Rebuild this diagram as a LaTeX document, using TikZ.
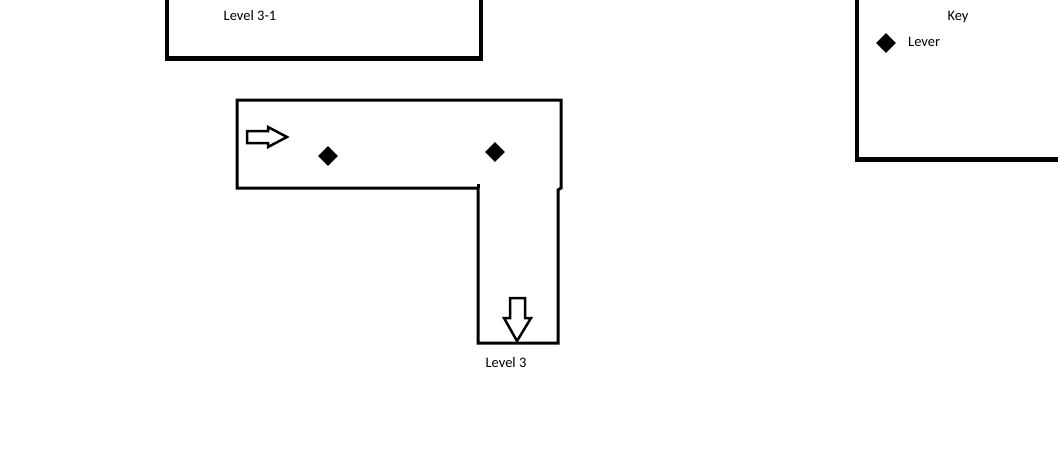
\documentclass[tikz,border=0pt]{standalone}
\usepackage{fontspec}
\setmainfont{Carlito}
\usetikzlibrary{shapes.geometric}
\begin{document}
\begin{tikzpicture}[x=1pt,y=-1pt,
  thickwall/.style={line width=4.5pt},
  wall/.style={line width=3pt},
  lever/.style={diamond,fill=black,inner sep=0pt,minimum width=20pt,minimum height=20pt},
  arrowshape/.style={line width=2.5pt,fill=white,line join=miter},
  lbl/.style={font=\fontsize{14.5}{17}\selectfont,text=black,inner sep=0pt}]
\useasboundingbox (0,0) rectangle (1058,475);
\fill[white] (0,0) rectangle (1058,475);
% Level 3-1 box
\draw[thickwall] (167,-5) -- (167,58.5) -- (481,58.5) -- (481,-5);
\node[lbl] (l31) at (250,16) {Level 3-1};
% Key box
\draw[thickwall] (857,-5) -- (857,159.5) -- (1063,159.5);
\node[lbl] (key) at (958,17) {Key};
\node[lever] (keylever) at (886,43) {};
\node[lbl,anchor=west] (levertxt) at (908,42) {Lever};
% L-shaped room
\draw[wall] (478,188) -- (237,188) -- (237,100) -- (561,100) -- (561,188) -- (558,190) -- (558,343) -- (478,343) -- (478,188);
\draw[wall] (478,188) -- (478,184);
% arrows
\draw[arrowshape] (247,131) -- (268,131) -- (268,127) -- (287,137) -- (268,147) -- (268,143) -- (247,143) -- cycle;
\draw[arrowshape] (510,298) -- (525,298) -- (525,318) -- (531,318) -- (517,341) -- (504,318) -- (510,318) -- cycle;
% levers
\node[lever] (lv1) at (328,156) {};
\node[lever] (lv2) at (495,152) {};
\node[lbl] (l3) at (506,363) {Level 3};
\end{tikzpicture}
\end{document}
